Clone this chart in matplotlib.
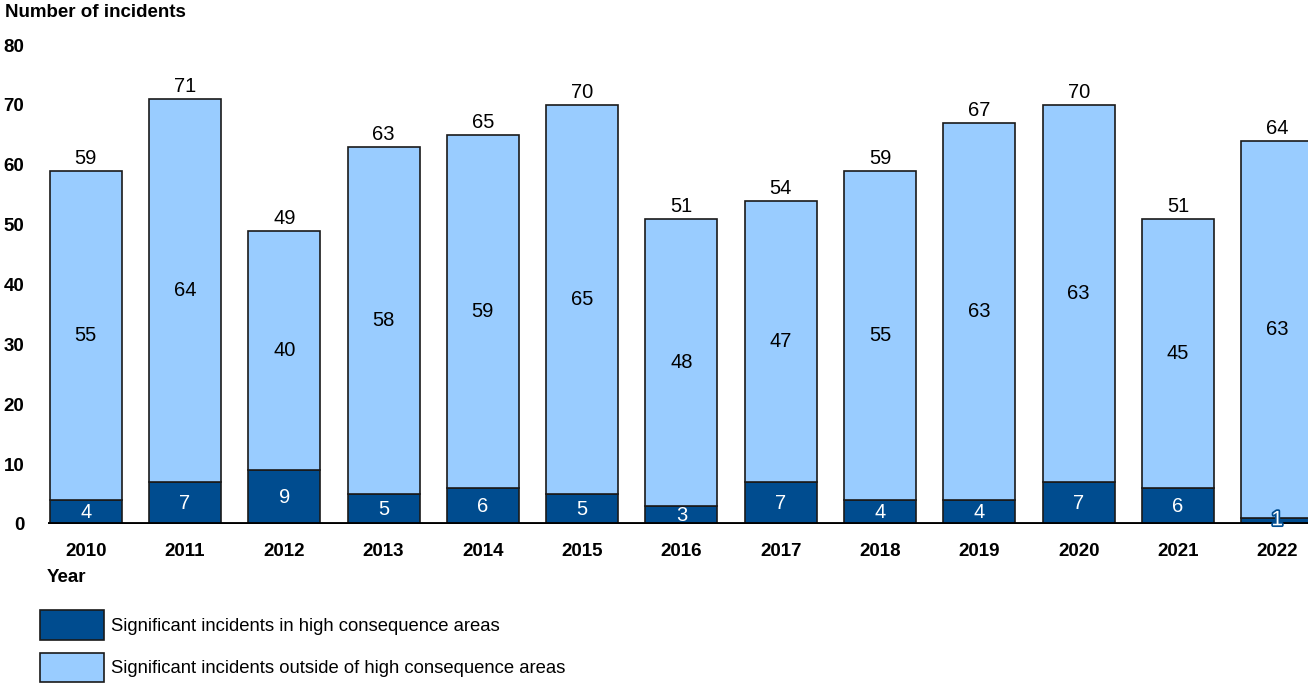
import matplotlib.pyplot as plt
import matplotlib.patheffects as pe
from matplotlib.patches import Patch

years = ["2010", "2011", "2012", "2013", "2014", "2015", "2016",
         "2017", "2018", "2019", "2020", "2021", "2022"]
inside_hca = [4, 7, 9, 5, 6, 5, 3, 7, 4, 4, 7, 6, 1]
outside_hca = [55, 64, 40, 58, 59, 65, 48, 47, 55, 63, 63, 45, 63]
totals = [59, 71, 49, 63, 65, 70, 51, 54, 59, 67, 70, 51, 64]

DARK = "#004C8F"
LIGHT = "#99CCFF"

plt.rcParams["font.family"] = ["Liberation Sans", "DejaVu Sans"]

fig = plt.figure(figsize=(13.08, 6.83), dpi=100)
ax = fig.add_axes([0.0367, 0.2328, 0.9633, 0.7012])

x = list(range(len(years)))
w = 0.725
ax.bar(x, inside_hca, w, color=DARK, edgecolor="#1a1a1a", linewidth=1.2, zorder=2)
ax.bar(x, outside_hca, w, bottom=inside_hca, color=LIGHT, edgecolor="#1a1a1a",
       linewidth=1.2, zorder=2)

for i in x:
    lo = inside_hca[i]
    if lo >= 2:
        ax.text(i, lo / 2, str(lo), ha="center", va="center", color="white", fontsize=14.5)
    else:
        ax.text(i, lo / 2 + 0.2, str(lo), ha="center", va="center", color="white", fontsize=15,
                path_effects=[pe.withStroke(linewidth=2.5, foreground=DARK)], zorder=4)
    ax.text(i, lo + outside_hca[i] / 2, str(outside_hca[i]), ha="center", va="center",
            color="black", fontsize=14.5)
    ax.text(i, totals[i] + 0.5, str(totals[i]), ha="center", va="bottom",
            color="black", fontsize=14.5)

ax.axhline(0, color="black", linewidth=3.5, zorder=3)
ax.set_xlim(-0.38, 12.31)
ax.set_ylim(0, 80)
ax.set_yticks(range(0, 81, 10))
ax.set_xticks(x)
ax.set_xticklabels(years, fontweight="bold", fontsize=13.5)
ax.tick_params(axis="both", length=0)
ax.tick_params(axis="x", pad=14)
ax.tick_params(axis="y", pad=17)
for lbl in ax.get_yticklabels():
    lbl.set_fontweight("bold")
    lbl.set_fontsize(13.5)
for s in ax.spines.values():
    s.set_visible(False)

fig.text(0.004, 0.981, "Number of incidents", fontweight="bold", fontsize=13.5,
         ha="left", va="center")
fig.text(0.036, 0.154, "Year", fontweight="bold", fontsize=13.5, ha="left", va="center")

handles = [Patch(facecolor=DARK, edgecolor="#1a1a1a", linewidth=1.2),
           Patch(facecolor=LIGHT, edgecolor="#1a1a1a", linewidth=1.2)]
labels = ["Significant incidents in high consequence areas",
          "Significant incidents outside of high consequence areas"]
fig.legend(handles, labels, loc="upper left", bbox_to_anchor=(0.0306, 0.107),
           frameon=False, fontsize=13.3, handlelength=3.46, handleheight=2.1,
           handletextpad=0.38, labelspacing=0.7, borderaxespad=0, borderpad=0)

fig.savefig("out.png", dpi=100)
